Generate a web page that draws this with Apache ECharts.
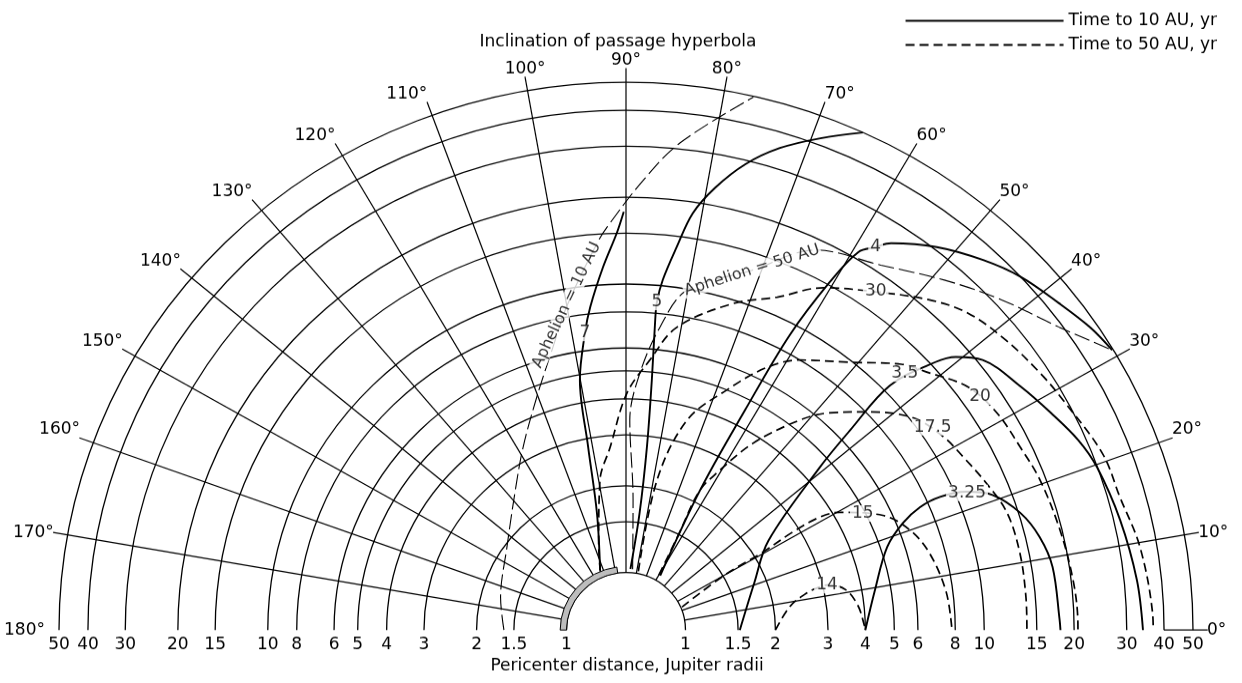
<!DOCTYPE html>
<html><head><meta charset="utf-8">
<script src="https://cdn.jsdelivr.net/npm/echarts@6/dist/echarts.min.js"></script>
<style>
html,body{margin:0;padding:0;background:#fff;width:1242px;height:683px;overflow:hidden}
#chart{width:1242px;height:707px;transform:scaleY(0.966);transform-origin:0 0}
</style></head><body><div id="chart"></div>
<script>
// ---------------- data (pericenter distance [Jupiter radii], inclination [deg]) ----------------
const radiusTicks = [1, 1.5, 2, 3, 4, 5, 6, 8, 10, 15, 20, 30, 40, 50];
const angleTicks = [0, 10, 20, 30, 40, 50, 60, 70, 80, 90, 100, 110, 120, 130, 140, 150, 160, 170, 180];

// Time to 10 AU, yr (solid)
const t10_7   = [[1.06,112.7],[1.65,103.5],[2.8,101.3],[4.8,100.1],[6.91,97.6],[8.45,96.1],[11.5,93.5],[15,91.3],[17.8,90.3]];
const t10_5   = [[1.03,86],[1.62,83.6],[2.75,83.7],[4.69,84.3],[7.58,84.8],[8.76,84.8],[10.5,84.2],[13.8,82.7],[18.3,81.2],[23.0,79],[29.1,76.1],[35.4,72.85],[42.2,69.1],[50,65.3]];
const t10_4   = [[1.05,58.7],[2.22,62.9],[4.58,62.4],[9.15,61.8],[15.4,60.5],[21.1,59.3],[23.4,57.8],[25.6,56.5],[30.7,51.9],[35.8,47],[40,42.8],[43.7,38],[47.4,34],[49.6,30.8]];
const t10_35  = [[1.52,0],[1.82,20.8],[2.34,33],[4.58,41],[6.63,42.7],[10.6,43.8],[15.5,41.9],[18,40.6],[20.8,38.1],[23.4,32.5],[25.7,27.9],[28.3,23.5],[29.9,19.7],[31.5,13],[33.1,5.8],[34,0]];
const t10_325 = [[4,0],[4.42,9.4],[5.26,18.2],[6.3,21.8],[7.47,23.4],[8.89,23.7],[10.9,22.8],[13,20.9],[15.2,17.1],[16.7,13.1],[17.6,8.7],[17.9,1.4],[18,0]];

// Time to 50 AU, yr (dashed)
const t50_30  = [[1.05,113],[1.3,107],[2.13,99.5],[2.73,94.8],[4.18,89.8],[5.5,85.1],[7.3,80.8],[9.7,72.5],[11.5,66.3],[14.4,60.9],[17.4,54.5],[21.5,48.3],[24.4,43.8],[26.4,38.3],[28.1,32.7],[29.3,28.6],[32.3,21],[32.9,15.6],[35.1,9.5],[36.7,1.9],[36.8,0]];
const t50_20  = [[1.02,78.5],[2.14,78.7],[3.6,74.3],[5.0,67.9],[6.7,62.6],[8.0,58.1],[9.85,51.1],[12.7,45],[14,41.7],[16.7,36.3],[17.9,31.2],[18.4,25.7],[19.1,20.6],[19.7,13.4],[20.3,6.6],[20.6,1.3],[20.6,0]];
const t50_175 = [[1.05,60],[1.5,62],[2.19,63],[2.66,60.8],[3.76,56.7],[5.42,51.3],[6.5,48],[8.2,42.8],[10.3,37.3],[11.4,32.2],[12,28],[12.9,22.8],[13.8,17.6],[14,11.4],[13.95,5],[13.9,0]];
const t50_15  = [[1.01,23],[1.52,30],[2.16,30.5],[2.8,31.3],[3.62,31.1],[4.21,29.7],[5.6,24.8],[6.5,20],[7.1,14.7],[7.6,7],[7.8,0]];
const t50_14  = [[2,0],[2.27,8.5],[2.6,11.8],[2.84,12.8],[3.14,13],[3.54,10.8],[3.82,6.2],[3.97,1.2],[4,0]];

// Aphelion boundaries (long dashes)
const aph10 = [[1.62,180],[1.72,165],[1.96,144.2],[2.6,127],[3.33,118.5],[4.59,110.3],[6.35,104.3],[8.79,99.9],[14,94.1],[15.8,92.6],[22.9,87.9],[31.5,83.9],[49.7,77]];
const aph50 = [[1.03,84],[1.79,87],[3.38,89],[4.93,87],[7.2,83.8],[9.9,80.2],[13.1,71.3],[18.3,64.3],[21.2,56],[26.1,48.6],[31.7,42.3],[39,35.9],[49.6,30.8]];

// curve labels
const curveLabelText = ['7','5','4','3.5','3.25','30','20','17.5','15','14'];
const curveLabelPos  = [[6.91,97.6],[8.76,84.8],[23.4,57.8],[12.3,43.6],[10.9,22.6],[17.4,54.5],[17.2,34.3],[11.1,34.4],[4.9,27],[3.1,13]];
const aphLabelText = ['Aphelion = 10 AU','Aphelion = 50 AU'];
const aphLabelPos  = [[8.8,100],[13.1,71.3]];
const aphLabelRotate = [65, 18];

const innerBand = [[1.05, 98, 180]];

// ---------------- chart ----------------
const FONT = 'DejaVu Sans';
const INK = '#000';
const chart = echarts.init(document.getElementById('chart'));
const center = [626, 652.2];
const radius = [59.5, 567];
const END_R = 56; // radial lines extend slightly past the outer circle

function arcItem(params, api) {
  const cs = params.coordSys;
  const p = api.coord([api.value(0), 0]);
  const r = Math.hypot(p[0] - cs.cx, p[1] - cs.cy);
  return {type:'arc', silent:true,
    shape:{cx:cs.cx, cy:cs.cy, r:r, startAngle:Math.PI, endAngle:2*Math.PI, clockwise:true},
    style:{stroke:INK, fill:'none', lineWidth:1.3}};
}
function radialItem(params, api) {
  const a = api.value(1);
  const p1 = api.coord([api.value(0), a]);
  const p2 = api.coord([END_R, a]);
  return {type:'line', silent:true, shape:{x1:p1[0], y1:p1[1], x2:p2[0], y2:p2[1]},
    style:{stroke:INK, lineWidth:1.2}};
}
function bandItem(params, api) {
  const cs = params.coordSys;
  const p = api.coord([api.value(0), 0]);
  const r = Math.hypot(p[0] - cs.cx, p[1] - cs.cy);
  const a0 = api.value(1), a1 = api.value(2);
  return {type:'sector', silent:true,
    shape:{cx:cs.cx, cy:cs.cy, r0:cs.r0, r:r, startAngle:-a1*Math.PI/180, endAngle:-a0*Math.PI/180, clockwise:true},
    style:{stroke:INK, fill:'#bdbdbd', lineWidth:1}};
}

const solidStyle = {color:INK, width:1.9, type:'solid'};
const dashStyle = {color:INK, width:1.7, type:[9,5]};
const aphStyle = {color:INK, width:1.1, type:[16,5]};

function curve(name, data, style) {
  return {type:'line', name:name, coordinateSystem:'polar', polarIndex:0, data:data,
    smooth:0.35, symbol:'none', lineStyle:style, itemStyle:{color:INK}, z:3, silent:true};
}

const labelData = curveLabelText.map((t, i) => ({value:curveLabelPos[i], label:{formatter:t}}));
const aphLabelData = aphLabelText.map((t, i) => ({value:aphLabelPos[i], label:{formatter:t, rotate:aphLabelRotate[i], fontSize:16, padding:[0,1]}}));

const radiusAxisBase = {type:'log', logBase:10, min:1, max:50,
  axisLine:{show:false}, axisTick:{show:false}, splitLine:{show:false}};
const tickFont = {fontSize:17, fontFamily:FONT, color:'#000'};

chart.setOption({
  animation:false,
  backgroundColor:'#fff',
  textStyle:{fontFamily:FONT, color:'#000'},
  legend:{
    data:['Time to 10 AU, yr','Time to 50 AU, yr'],
    orient:'vertical', right:20, top:8, itemWidth:158, itemHeight:14, itemGap:8,
    textStyle:{fontSize:17, fontFamily:FONT, color:'#000'},
    itemStyle:{opacity:0}
  },
  graphic:[
    {type:'text', x:618, y:43.5, style:{text:'Inclination of passage hyperbola', font:'17px "DejaVu Sans"', fill:'#000', textAlign:'center', textVerticalAlign:'middle'}},
    {type:'text', x:627, y:690, style:{text:'Pericenter distance, Jupiter radii', font:'17px "DejaVu Sans"', fill:'#000', textAlign:'center', textVerticalAlign:'middle'}}
  ],
  polar:[{center:center, radius:radius}, {center:center, radius:radius}],
  angleAxis:[
    {polarIndex:0, type:'value', min:0, max:360, startAngle:0, clockwise:false,
      axisLine:{show:false}, axisTick:{show:false}, splitLine:{show:false},
      axisLabel:Object.assign({customValues:angleTicks, formatter:v => v + '°', margin:14}, tickFont)},
    {polarIndex:1, type:'value', min:0, max:360, startAngle:180, clockwise:false, show:false}
  ],
  radiusAxis:[
    Object.assign({polarIndex:0, axisLabel:Object.assign({customValues:radiusTicks, margin:-7, verticalAlign:'top', align:'center'}, tickFont)}, radiusAxisBase),
    Object.assign({polarIndex:1, axisLabel:Object.assign({customValues:radiusTicks, margin:7, verticalAlign:'top', align:'center'}, tickFont)}, radiusAxisBase)
  ],
  series:[
    {type:'custom', coordinateSystem:'polar', polarIndex:0, renderItem:arcItem, data:radiusTicks.map(v => [v, 0]), z:1, silent:true},
    {type:'custom', coordinateSystem:'polar', polarIndex:0, renderItem:radialItem,
      data:angleTicks.filter(a => a < 180).map(a => [a === 0 ? 40 : 1, a]), z:1, silent:true},
    {type:'custom', coordinateSystem:'polar', polarIndex:0, renderItem:bandItem, data:innerBand, z:2, silent:true},
    curve('Time to 10 AU, yr', t10_7, solidStyle),
    curve('Time to 10 AU, yr', t10_5, solidStyle),
    curve('Time to 10 AU, yr', t10_4, solidStyle),
    curve('Time to 10 AU, yr', t10_35, solidStyle),
    curve('Time to 10 AU, yr', t10_325, solidStyle),
    curve('Time to 50 AU, yr', t50_30, dashStyle),
    curve('Time to 50 AU, yr', t50_20, dashStyle),
    curve('Time to 50 AU, yr', t50_175, dashStyle),
    curve('Time to 50 AU, yr', t50_15, dashStyle),
    curve('Time to 50 AU, yr', t50_14, dashStyle),
    curve('Aphelion = 10 AU', aph10, aphStyle),
    curve('Aphelion = 50 AU', aph50, aphStyle),
    {type:'scatter', coordinateSystem:'polar', polarIndex:0, symbolSize:0, z:5, silent:true,
      label:{show:true, position:'inside', fontSize:17, fontFamily:FONT, color:'#000', backgroundColor:'#fff', padding:[0,2]},
      data:labelData.concat(aphLabelData)}
  ]
});
</script></body></html>
